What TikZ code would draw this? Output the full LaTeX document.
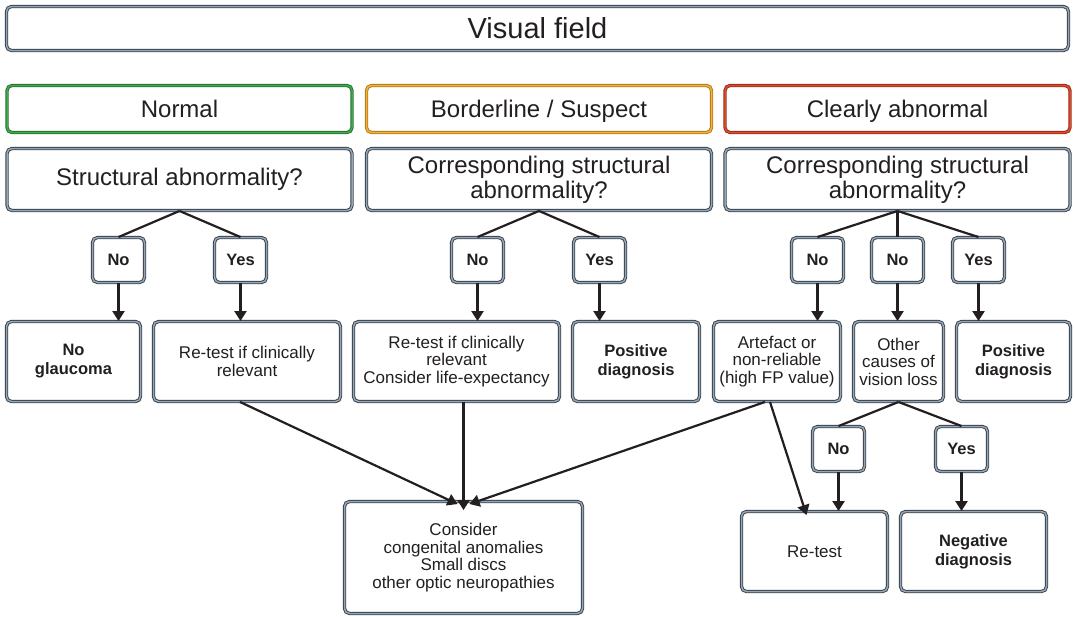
\documentclass[tikz,border=0pt]{standalone}
\usepackage{fontspec}
\setmainfont{Liberation Sans}
\usetikzlibrary{arrows.meta, positioning, calc}
\definecolor{txt}{RGB}{35,31,32}
\definecolor{edge}{RGB}{55,64,74}
\definecolor{edgelight}{RGB}{150,166,180}
\definecolor{okgreen}{RGB}{62,170,74}
\definecolor{okgreendark}{RGB}{40,110,48}
\definecolor{warnorange}{RGB}{246,180,52}
\definecolor{warnorangedark}{RGB}{170,120,30}
\definecolor{badred}{RGB}{222,74,44}
\definecolor{badreddark}{RGB}{150,45,25}
\tikzset{
  box/.style={draw=edge, double=edgelight, line width=0.9pt, double distance=1.5pt,
    rounded corners=5pt, fill=white, align=center, text=txt, inner sep=2pt},
  hdr/.style={box, minimum width=345pt, minimum height=47pt, text height=18pt, text depth=1pt,
    font=\fontsize{24}{26}\selectfont},
  question/.style={box, minimum width=345pt, minimum height=62pt, font=\fontsize{24}{25}\selectfont},
  choice/.style={box, minimum width=52pt, minimum height=45pt, font=\bfseries\fontsize{16.5}{18}\selectfont},
  result/.style={box, minimum height=80pt, font=\fontsize{17}{17.5}\selectfont},
  verdict/.style={result, font=\bfseries\fontsize{16.5}{19}\selectfont},
  link/.style={line width=2.2pt, draw=txt},
  arr/.style={link, -{Triangle[width=12pt,length=10pt]}}
}
\begin{document}
\begin{tikzpicture}[x=1pt, y=-1pt]
        \useasboundingbox (0,0) rectangle (1075,616);

        % Top level
        \node[box, minimum width=1062pt, minimum height=44pt, font=\fontsize{29}{32}\selectfont] (field) at (537.5,28.5) {Visual field};

        % Categories
        \node[hdr, draw=okgreendark, double=okgreen] (normal) at (179.5,109) {Normal};
        \node[hdr, draw=warnorangedark, double=warnorange] (border) at (539,109) {Borderline / Suspect};
        \node[hdr, draw=badreddark, double=badred] (abnormal) at (897.5,109) {Clearly abnormal};

        % Questions
        \node[question] (qnormal) at (179.5,179.5) {Structural abnormality?};
        \node[question] (qborder) at (539,179.5) {Corresponding structural\\abnormality?};
        \node[question] (qabnormal) at (897.5,179.5) {Corresponding structural\\abnormality?};

        % Answers
        \node[choice] (noA) at (118.5,260) {No};
        \node[choice] (yesA) at (240.5,260) {Yes};
        \node[choice] (noB) at (477.5,260) {No};
        \node[choice] (yesB) at (599.5,260) {Yes};
        \node[choice] (noC) at (817.5,260) {No};
        \node[choice] (noD) at (897.5,260) {No};
        \node[choice] (yesC) at (978.5,260) {Yes};

        % Outcomes
        \node[verdict, minimum width=134pt] (noglauc) at (73.5,361.5) {No\\glaucoma};
        \node[result, minimum width=187pt] (retestA) at (247,361.5) {Re-test if clinically\\relevant};
        \node[result, minimum width=206pt] (retestB) at (456.5,361.5) {Re-test if clinically\\relevant\\Consider life-expectancy};
        \node[verdict, minimum width=127pt] (posB) at (636,361.5) {Positive\\diagnosis};
        \node[result, minimum width=127pt] (artefact) at (777,361.5) {Artefact or\\non-reliable\\(high FP value)};
        \node[result, minimum width=90pt] (othercause) at (898.5,361.5) {Other\\causes of\\vision loss};
        \node[verdict, minimum width=114pt] (posC) at (1013.5,361.5) {Positive\\diagnosis};

        % Second stage answers
        \node[choice] (noE) at (838.5,449) {No};
        \node[choice] (yesE) at (961.5,449) {Yes};

        % Final outcomes
        \node[result, minimum width=238pt, minimum height=112pt] (consider) at (463.5,557.5) {Consider\\congenital anomalies\\Small discs\\other optic neuropathies};
        \node[result, minimum width=146pt] (retest) at (814.5,551.5) {Re-test};
        \node[verdict, minimum width=146pt] (negative) at (973.5,551.5) {Negative\\diagnosis};

        % Branches
        \foreach \q/\a in {qnormal/noA, qnormal/yesA, qborder/noB, qborder/yesB,
                           qabnormal/noC, qabnormal/noD, qabnormal/yesC,
                           othercause/noE, othercause/yesE}
          \draw[link] (\q.south) -- (\a.north);

        % Answer arrows
        \foreach \a/\r in {noA/noglauc, yesA/retestA, noB/retestB, yesB/posB,
                           noC/artefact, noD/othercause, yesC/posC,
                           noE/retest, yesE/negative}
          \draw[arr] (\a.south) -- (\a.south |- \r.north);

        % Converging arrows
        \draw[arr] ([xshift=-7pt]retestA.south) -- ([xshift=-6pt,yshift=-3pt]consider.north);
        \draw[arr] (retestB.south -| consider.north) -- ([yshift=-9pt]consider.north);
        \draw[arr] ([xshift=-12pt]artefact.south) -- ([xshift=6pt,yshift=-3pt]consider.north);
        \draw[arr] ([xshift=-7pt]artefact.south) -- ([xshift=-8pt,yshift=-4pt]retest.north);
      \end{tikzpicture}
\end{document}
